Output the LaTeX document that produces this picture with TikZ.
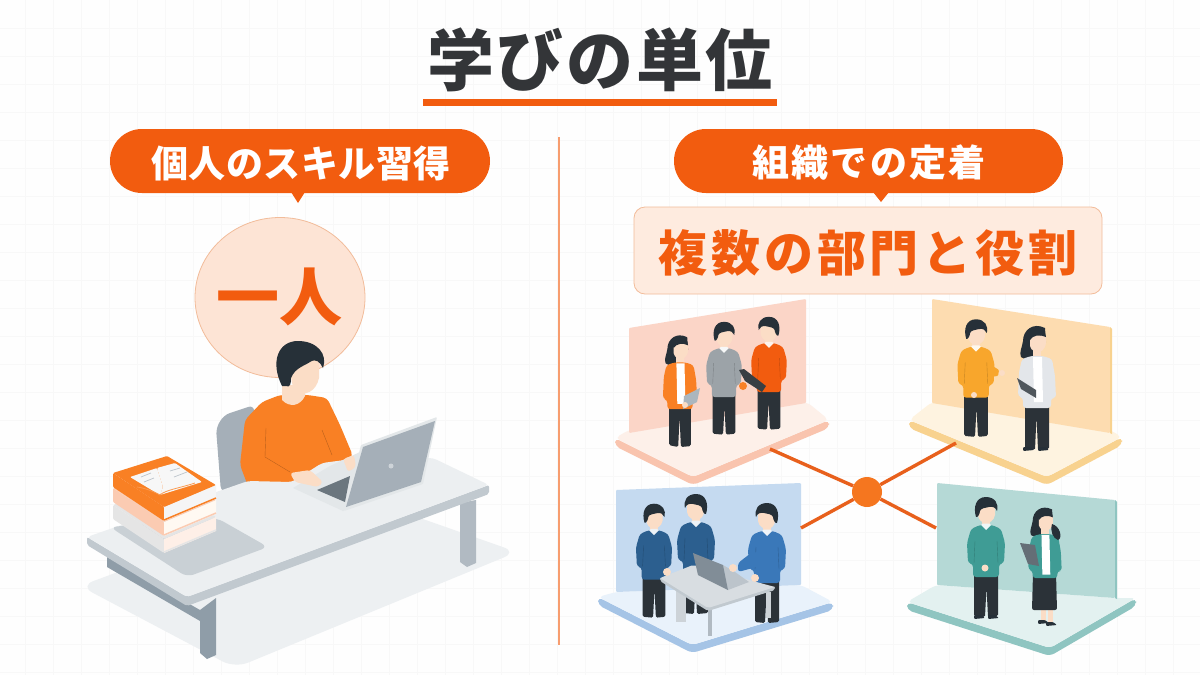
\documentclass[tikz,border=0pt]{standalone}
\usepackage{fontspec}
\newfontfamily\cjk{Noto Sans CJK JP}
\usetikzlibrary{calc}
\definecolor{paper}{HTML}{FEFEFE}
\definecolor{gridline}{HTML}{F8F8F8}
\definecolor{accent}{HTML}{F25C0F}
\definecolor{ink}{HTML}{333538}
\definecolor{skin}{HTML}{FBDDC6}
\definecolor{hair}{HTML}{263038}
\definecolor{pantsdark}{HTML}{2B3238}
\definecolor{deskgrey}{HTML}{ECEFF1}
\definecolor{floorshade}{HTML}{EDF0F2}
\definecolor{metal}{HTML}{8F9DA8}
\definecolor{steel}{HTML}{A5AFB8}
\definecolor{sweater}{HTML}{F98024}
\definecolor{bubblefill}{HTML}{FDE4D5}
\definecolor{bubbleline}{HTML}{F2BC9A}
\definecolor{peachwall}{HTML}{FBD5C7}
\definecolor{peachtop}{HTML}{FDF0E9}
\definecolor{peachedge}{HTML}{F9C4AE}
\definecolor{sandwall}{HTML}{FDDCB0}
\definecolor{sandtop}{HTML}{FEF3E0}
\definecolor{sandedge}{HTML}{F8D28F}
\definecolor{bluewall}{HTML}{C5DAF0}
\definecolor{bluetop}{HTML}{E9F2FB}
\definecolor{blueedge}{HTML}{A5C4E6}
\definecolor{tealwall}{HTML}{B5D9D6}
\definecolor{tealtop}{HTML}{E3F1F0}
\definecolor{tealedge}{HTML}{8FC5C1}
\definecolor{teal shirt}{HTML}{3F9C95}
\definecolor{navy shirt}{HTML}{2C5F8F}
\definecolor{blue shirt}{HTML}{3A78B9}
\definecolor{amber shirt}{HTML}{F8A62C}
\definecolor{grey shirt}{HTML}{9CA3A8}
\definecolor{pale shirt}{HTML}{E3E6EA}
\definecolor{hubfill}{HTML}{F5761F}
\definecolor{linkline}{HTML}{E8601C}
\tikzset{
  pill/.style={fill=accent,rounded corners=32pt},
  labeltext/.style={text=white,font=\cjk\bfseries\fontsize{37}{40}\selectfont,inner sep=0pt},
  link/.style={draw=linkline,line width=3.4pt},
}
\newcommand{\headman}{%
  \fill[skin] (-4,6) rectangle (4,17);
  \fill[skin] (-8,-6) -- (9,-6) -- (9,4) .. controls (8,10) and (3,12) .. (0,12) .. controls (-5,12) and (-8,8) .. (-8,3) -- cycle;
  \fill[hair] (-10,6) .. controls (-13,-4) and (-10,-14) .. (0,-14) .. controls (9,-14) and (13,-7) .. (11,0) .. controls (10,-3) and (7,-5) .. (3,-4) .. controls (-1,-3) and (-5,-3) .. (-6,0) .. controls (-6,2) and (-8,7) .. (-10,6) -- cycle;
}
\newcommand{\headwoman}{%
  \fill[hair] (-8,-12) .. controls (4,-18) and (14,-10) .. (14,1) .. controls (15,8) and (18,12) .. (16,17) .. controls (12,20) and (7,19) .. (5,18) -- (-2,12) -- (-9,2) -- cycle;
  \fill[skin] (-9,-4) -- (7,-6) -- (7,6) .. controls (6,11) and (0,13) .. (-3,12) .. controls (-7,10) and (-9,6) .. (-9,2) -- cycle;
  \fill[skin] (-4,8) rectangle (4,19);
  \fill[hair] (-9,-3) .. controls (-8,-14) and (4,-16) .. (8,-8) .. controls (9,-4) and (8,-2) .. (7,0) .. controls (4,-5) and (-3,-6) .. (-9,-3) -- cycle;
}
% standing figures: head x, head y, scale, facing, shirt colour
\newcommand{\manfig}[5]{%
  \begin{scope}[shift={(#1,#2)},xscale=#3*#4,yscale=#3]
    \fill[pantsdark,rounded corners=1.5pt] (-12,60) -- (12,60) -- (12,105) -- (2,106) -- (0.5,76) -- (-1,106) -- (-12,105) -- cycle;
    \headman
    \fill[#5,rounded corners=3pt] (-6,14) -- (-15,18) -- (-19,32) -- (-18,52) -- (-13,53) -- (-13,66) -- (13,66) -- (13,53) -- (18,52) -- (19,32) -- (15,18) -- (6,14) -- cycle;
    \draw[#5!80!black,line width=.4pt] (-11,30) -- (-12,52) (11,30) -- (12,52);
    \fill[white!92!#5] (-5,14) -- (0,19) -- (5,14) -- (3,12.5) -- (-3,12.5) -- cycle;
  \end{scope}}
\newcommand{\womanfig}[5]{%
  \begin{scope}[shift={(#1,#2)},xscale=#3*#4,yscale=#3]
    \fill[pantsdark,rounded corners=1.5pt] (-12,60) -- (12,60) -- (12,108) -- (2,110) -- (0.5,76) -- (-1,110) -- (-12,109) -- cycle;
    \headwoman
    \fill[#5,rounded corners=3pt] (-6,16) -- (-15,19) -- (-18,36) -- (-19,58) -- (-14,58) -- (-14,68) -- (14,68) -- (14,58) -- (19,56) -- (18,32) -- (15,19) -- (6,16) -- cycle;
    \fill[white] (-5,17) -- (4,17) -- (3,62) -- (-6,62) -- cycle;
  \end{scope}}
\newcommand{\shoe}[2]{\fill[hair,rounded corners=1pt] (#1-4,#2) -- (#1+3,#2) -- (#1+7,#2+3) -- (#1-4,#2+4) -- cycle;}
% a stage: left, front and right corners, two corners under the wall, top colour, edge colour
\newcommand{\stage}[7]{%
  \fill[#7,rounded corners=5pt] #1 -- ($#1+(0,8)$) -- ($#2+(0,8)$) -- ($#3+(0,8)$) -- #3 -- #2 -- cycle;
  \fill[#6,rounded corners=5pt] #1 -- #2 -- #3 -- #4 -- #5 -- cycle;
}
% a stacked book, seen from above at the same angle as the desk
\newcommand{\bookslab}[3]{%
  \fill[#2,rounded corners=1pt] (113,473+#1) -- (164,507+#1) -- (164,521+#1) -- (113,487+#1) -- cycle;
  \fill[#3] (164,507+#1) -- (216,485+#1) -- (216,499+#1) -- (164,521+#1) -- cycle;
  \fill[#2,rounded corners=1pt] (113,473+#1) -- (167,456+#1) -- (216,485+#1) -- (164,507+#1) -- cycle;
  \draw[#2,line width=1.5pt] (164,520+#1) -- (216,498+#1);
}
\begin{document}
\begin{tikzpicture}[x=1pt,y=-1pt]
\useasboundingbox (0,0) rectangle (1200,675);
\fill[paper] (0,0) rectangle (1200,675);
% faint ruled paper
\foreach \gx in {25,53,...,1200} \draw[gridline,line width=.5pt] (\gx,0) -- (\gx,675);
\foreach \gy in {28,56,...,675} \draw[gridline,line width=.5pt] (0,\gy) -- (1200,\gy);

% title
\node[text=ink,font=\cjk\bfseries\fontsize{67}{72}\selectfont\addfontfeature{LetterSpace=4},inner sep=0pt] (title) at (600,60) {学びの単位};
\fill[accent] (423,99) rectangle (777,105.5);

% left and right callouts
\fill[pill] (110,129) rectangle (490,193);
\fill[accent] (291,192) -- (305,192) -- (298,203) -- cycle;
\node[labeltext] (lefttag) at (301,163) {\addfontfeature{LetterSpace=1.5}個人のスキル習得};
\fill[pill] (674,129) rectangle (1063,193);
\fill[accent] (873,192) -- (889,192) -- (881,202) -- cycle;
\node[labeltext] (righttag) at (869,163) {\addfontfeature{LetterSpace=6}組織での定着};

% central divider
\draw[draw=accent!60!paper,line width=1.5pt] (559,137) -- (559,645);

% one-person bubble
\fill[bubblefill,draw=bubbleline,line width=.8pt] (280,297.5) ellipse [x radius=85,y radius=80];
\node[text=accent,font=\cjk\bfseries\fontsize{63}{70}\selectfont,inner sep=0pt] (one) at (279,297) {一人};

% desk: floor shadow, legs, rail
\fill[floorshade,rounded corners=14pt] (80,586) -- (340,490) -- (517,552) -- (235,668) -- cycle;
\fill[metal!70!white] (460,503) -- (476,500) -- (476,563) -- (467,567) -- (460,562) -- cycle;
\fill[metal] (107,557) -- (107,567) -- (200,621) -- (200,610) -- cycle;
\fill[metal] (200,610) -- (216,598) -- (216,655) -- (207,659) -- (200,653) -- cycle;

% chair back
\fill[steel,rounded corners=6pt] (221,492) -- (216,428) -- (224,415) -- (254,405) -- (255,480) -- (224,492) -- cycle;

% worker at the desk
\fill[sweater,rounded corners=4pt] (280,395) -- (262,402) -- (245,420) -- (240,465) -- (248,486) -- (292,486) -- (330,470) -- (353,456) -- (340,425) -- (327,398) -- (308,395) -- cycle;
\draw[sweater!75!black,line width=.4pt] (266,428) -- (265,457) -- (290,472) (322,430) -- (332,455);
\fill[skin] (282,385) -- (282,400) .. controls (290,408) and (300,406) .. (305,396) -- (305,385) -- cycle;
\fill[skin] (290,360) -- (319,355) -- (319,378) .. controls (316,392) and (305,396) .. (296,392) .. controls (291,386) and (290,372) .. (290,360) -- cycle;
\fill[hair] (282,386) .. controls (270,362) and (278,341) .. (298,341) .. controls (317,341) and (328,354) .. (323,368) .. controls (320,362) and (316,358) .. (310,362) .. controls (304,366) and (295,368) .. (291,378) .. controls (291,384) and (290,388) .. (286,386) -- cycle;

% desk top, thick edge below
\fill[metal!55!white,rounded corners=2pt] (87,537) -- (87,545) -- (187,606) -- (489,494) -- (489,485) -- (187,597) -- cycle;
\fill[deskgrey,rounded corners=4pt] (87,537) -- (248,481) -- (292,482) -- (322,463) -- (360,458) -- (433,458) -- (489,485) -- (187,597) -- cycle;
% desk mat
\fill[metal!48!white,rounded corners=7pt] (110,527) -- (217,518) -- (268,547) -- (187,577) -- cycle;

% keyboard, hands and laptop
\fill[metal!25!white] (293,488) -- (330,466) -- (360,452) -- (375,495) -- (343,511) -- cycle;
\fill[metal!75!black] (317,490) -- (350,476) -- (345,502) -- cycle;
\fill[skin,rounded corners=3pt] (290,473) -- (310,470) -- (323,482) -- (318,487) -- (295,482) -- cycle;
\fill[skin,rounded corners=3pt] (343,459) -- (354,455) -- (356,467) -- (348,472) -- cycle;
\fill[metal!25!white,rounded corners=1pt] (361,445) -- (437,417) -- (423,484) -- (344,511) -- cycle;
\fill[steel] (363,447) -- (435,421) -- (421,482) -- (346,507) -- cycle;
\fill[metal!45!white] (391,466) circle (2.5);

% book stack
\bookslab{32}{white!90!black}{accent!10!white}
\bookslab{15}{accent!32!white}{white!95!orange}
\bookslab{0}{sweater}{white!96!black}
\fill[white!97!black,rounded corners=1pt] (130,477) -- (157,468) -- (163,487) -- (160,495) -- cycle;
\fill[white!97!black,rounded corners=1pt] (157,468) -- (175,463) -- (202,482) -- (160,495) -- (163,487) -- cycle;
\draw[metal!60!white,line width=.7pt] (141,477) -- (151,473) (144,482) -- (154,478) (170,471) -- (180,468) (174,477) -- (187,472);
\draw[sweater!80!white,line width=.8pt] (137,487) .. controls (145,488) and (155,492) .. (160,495) .. controls (165,490) and (180,488) .. (195,483);

% stages for the four teams
\stage{(615,438)}{(693,477)}{(829,420)}{(807,402)}{(629,430)}{peachtop}{peachedge}
\fill[peachwall,rounded corners=1pt] (629,328) -- (806,299) -- (806,403) -- (629,433) -- cycle;
\stage{(909,420)}{(1047,477)}{(1122,437)}{(1110,430)}{(932,402)}{sandtop}{sandedge}
\fill[sandwall,rounded corners=1pt] (932,299) -- (1110,327) -- (1110,433) -- (932,403) -- cycle;
\fill[sandedge] (1110,327) -- (1112,329) -- (1112,434) -- (1110,433) -- cycle;
\stage{(598,597)}{(692,645)}{(833,602)}{(801,585)}{(616,592)}{bluetop}{blueedge}
\fill[bluewall,rounded corners=1pt] (616,490) -- (801,483) -- (801,585) -- (616,592) -- cycle;
\stage{(907,602)}{(1050,648)}{(1136,598)}{(1115,598)}{(936,585)}{tealtop}{tealedge}
\fill[tealwall,rounded corners=1pt] (937,483) -- (1115,500) -- (1115,598) -- (937,585) -- cycle;
\fill[tealedge] (1115,500) -- (1117,502) -- (1117,599) -- (1115,598) -- cycle;

% connecting hub between the stages
\node[circle,fill=hubfill,minimum size=30pt,inner sep=0pt] (hub) at (867,492) {};
\coordinate (ta) at (770,449);
\coordinate (tb) at (956,443);
\coordinate (tc) at (801,528);
\coordinate (td) at (936,528);
\draw[link] (hub) -- (ta);
\draw[link] (hub) -- (tb);
\draw[link] (hub) -- (tc);
\draw[link] (hub) -- (td);

% team one
\womanfig{680}{348}{.9}{-1}{sweater}
\fill[metal!75!white] (684,396) -- (700,388) -- (697,402) -- (683,409) -- cycle;
\fill[skin] (685,405) circle (3);
\manfig{724}{335}{.94}{1}{grey shirt}
\manfig{769}{330}{.94}{-1}{accent}
\fill[metal!40!black] (739,370) -- (744,369) -- (766,386) -- (762,392) -- (745,381) -- cycle;
\fill[sweater] (743,386) circle (4);

% team two
\manfig{976}{333}{.98}{1}{amber shirt}
\fill[amber shirt,rounded corners=1pt] (988,363) -- (999,370) -- (998,376) -- (988,377) -- cycle;
\fill[skin] (1002,373) circle (3);
\fill[skin] (974,395) circle (3);
\womanfig{1037}{340}{1}{-1}{pale shirt}
\shoe{1027}{447}
\shoe{1042}{447}
\fill[metal!55!black] (1017,378) -- (1036,390) -- (1036,398) -- (1021,389) -- cycle;

% team three and their table
\manfig{654}{517}{.95}{1}{navy shirt}
\manfig{696}{508}{1}{-1}{navy shirt}
\manfig{767}{517}{1}{-1}{blue shirt}
\fill[blue shirt,rounded corners=3pt] (755,550) -- (738,563) -- (738,572) -- (760,566) -- cycle;
\fill[metal!45!white] (676,588) rectangle (686,622);
\fill[metal!70!white] (708,607) rectangle (712,636);
\fill[metal!45!white] (766,592) rectangle (771,618);
\fill[metal!55!white,rounded corners=2pt] (660,581) -- (708,611) -- (775,590) -- (775,586) -- (708,606) -- (660,577) -- cycle;
\fill[metal!35!white,rounded corners=2pt] (660,578) -- (693,565) -- (775,587) -- (708,608) -- cycle;
\fill[skin] (667,572) circle (4);
\fill[metal!60!white] (728,590) -- (749,582) -- (735,572) -- (723,565) -- cycle;
\fill[metal!90!black] (693,553) -- (723,565) -- (728,590) -- (698,575) -- cycle;
\fill[skin] (733,568) circle (4);
\fill[skin] (755,578) circle (4);

% team four
\manfig{986}{511}{1}{1}{teal shirt}
\shoe{978}{615}
\shoe{992}{615}
\fill[skin] (985,568) circle (3.5);
\fill[skin] (1041,575) rectangle (1046,622);
\fill[skin] (1048,575) rectangle (1053,622);
\shoe{1042}{620}
\shoe{1050}{622}
\fill[pantsdark,rounded corners=2pt] (1033,573) -- (1056,573) -- (1057,610) -- (1032,610) -- cycle;
\begin{scope}[shift={(1045,520)},xscale=-.88,yscale=.88]
  \headwoman
  \fill[teal shirt,rounded corners=3pt] (-6,16) -- (-15,19) -- (-18,36) -- (-19,58) -- (-14,58) -- (-14,66) -- (14,66) -- (14,58) -- (19,56) -- (18,32) -- (15,19) -- (6,16) -- cycle;
  \fill[white] (-5,17) -- (4,17) -- (3,62) -- (-6,62) -- cycle;
\end{scope}
\fill[hair] (1052,524) .. controls (1060,526) and (1063,538) .. (1058,540) .. controls (1053,538) and (1050,532) .. (1052,524) -- cycle;
\fill[metal!70!black] (1020,543) -- (1035,545) -- (1039,566) -- (1028,564) -- cycle;

% banner naming the departments
\node[draw=bubbleline,fill=bubblefill!75!white,line width=.8pt,rounded corners=11pt,minimum width=468pt,minimum height=87pt,inner sep=0pt] (banner) at (868,250.5) {};
\node[text=accent,font=\cjk\bfseries\fontsize{49}{52}\selectfont\addfontfeature{LetterSpace=8},inner sep=0pt] (bannertext) at (868,253) {複数の部門と役割};
\end{tikzpicture}
\end{document}
